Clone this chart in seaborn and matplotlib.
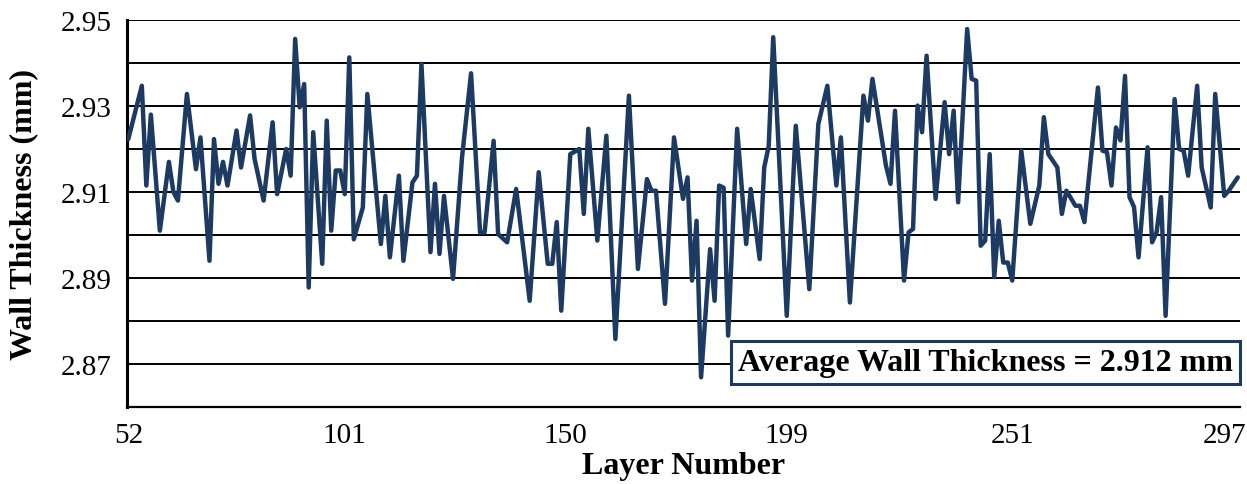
import matplotlib
matplotlib.use("Agg")
import matplotlib.pyplot as plt
import seaborn as sns
import pandas as pd

# sample index along the category axis (one category per measured layer)
sample_index = [0, 3, 4, 5, 7, 9, 10, 11, 13, 15, 16, 18, 19, 20, 21, 22, 24, 25, 27, 28,
                30, 32, 33, 35, 36, 37, 38, 39, 40, 41, 43, 44, 45, 46, 47, 48, 49, 50, 52, 53,
                56, 57, 58, 60, 61, 63, 64, 65, 67, 68, 69, 70, 72, 74, 76, 78, 79, 81, 82, 84,
                86, 89, 91, 93, 94, 95, 96, 98, 100, 101, 102, 104, 106, 108, 111, 113, 115, 116, 117, 119,
                121, 123, 124, 125, 126, 127, 129, 130, 131, 132, 133, 135, 137, 138, 140, 141, 142, 143, 146, 148,
                151, 153, 155, 157, 158, 160, 163, 164, 165, 168, 169, 170, 172, 173, 174, 175, 176, 177, 179, 181,
                182, 183, 184, 186, 187, 188, 189, 190, 191, 192, 193, 194, 195, 196, 198, 200, 202, 203, 204, 206,
                207, 208, 210, 211, 212, 215, 216, 217, 218, 219, 220, 221, 222, 223, 224, 226, 227, 228, 229, 230,
                232, 233, 234, 235, 237, 238, 240, 241, 243, 244, 246]

thickness = [2.9223, 2.9347, 2.9115, 2.9280, 2.9010, 2.9170, 2.9100, 2.9080, 2.9328, 2.9153,
             2.9227, 2.8940, 2.9223, 2.9119, 2.9170, 2.9115, 2.9243, 2.9157, 2.9278, 2.9177,
             2.9080, 2.9262, 2.9095, 2.9200, 2.9138, 2.9456, 2.9297, 2.9351, 2.8878, 2.9239,
             2.8933, 2.9266, 2.9010, 2.9150, 2.9150, 2.9095, 2.9413, 2.8990, 2.9064, 2.9328,
             2.8979, 2.9091, 2.8948, 2.9138, 2.8940, 2.9122, 2.9138, 2.9398, 2.8960, 2.9119,
             2.8956, 2.9091, 2.8898, 2.9181, 2.9376, 2.9006, 2.9006, 2.9219, 2.9002, 2.8983,
             2.9107, 2.8847, 2.9146, 2.8933, 2.8933, 2.9030, 2.8824, 2.9188, 2.9200, 2.9049,
             2.9247, 2.8987, 2.9231, 2.8758, 2.9324, 2.8921, 2.9130, 2.9103, 2.9103, 2.8840,
             2.9227, 2.9084, 2.9134, 2.8894, 2.9033, 2.8669, 2.8967, 2.8847, 2.9115, 2.9110,
             2.8766, 2.9247, 2.8979, 2.9107, 2.8944, 2.9157, 2.9207, 2.9460, 2.8812, 2.9254,
             2.8874, 2.9258, 2.9347, 2.9115, 2.9227, 2.8843, 2.9324, 2.9266, 2.9363, 2.9161,
             2.9119, 2.9289, 2.8894, 2.9006, 2.9014, 2.9301, 2.9239, 2.9417, 2.9084, 2.9309,
             2.9188, 2.9289, 2.9076, 2.9479, 2.9363, 2.9359, 2.8975, 2.8987, 2.9188, 2.8902,
             2.9033, 2.8936, 2.8936, 2.8894, 2.9196, 2.9026, 2.9115, 2.9274, 2.9188, 2.9157,
             2.9049, 2.9103, 2.9068, 2.9068, 2.9030, 2.9343, 2.9196, 2.9193, 2.9115, 2.9250,
             2.9220, 2.9370, 2.9088, 2.9065, 2.8948, 2.9204, 2.8983, 2.9006, 2.9088, 2.8812,
             2.9316, 2.9200, 2.9196, 2.9138, 2.9347, 2.9157, 2.9064, 2.9328, 2.9091, 2.9103,
             2.9134]

tick_positions = [0, 48, 97, 146, 196, 243]
tick_labels = ["52", "101", "150", "199", "251", "297"]
y_ticks = [2.87, 2.89, 2.91, 2.93, 2.95]
average_thickness = 2.912

df = pd.DataFrame({"idx": sample_index, "t": thickness})

sns.set_theme(style="white")
plt.rcParams["font.family"] = ["Liberation Serif", "DejaVu Serif"]

fig = plt.figure(figsize=(12.47, 4.85), dpi=100)
ax = fig.add_axes([0.1018, 0.1588, 0.8926, 0.7979])

# gridlines every 0.01
for g in [2.86 + 0.01 * k for k in range(1, 10)]:
    ax.axhline(g, color="black", lw=1.4, zorder=1)

sns.lineplot(data=df, x="idx", y="t", ax=ax, color="#1C3A62", lw=3.2, zorder=3)

ax.set_xlim(-0.3, 246.5)
ax.set_ylim(2.86, 2.95)
ax.set_yticks(y_ticks)
ax.set_yticklabels([f"{v:.2f}" for v in y_ticks])
ax.set_yticks([2.86 + 0.01 * k for k in range(0, 10)], minor=True)
ax.set_xticks(tick_positions)
ax.set_xticklabels(tick_labels)
ax.tick_params(axis="both", which="major", labelsize=21, direction="out",
               length=7, width=1.4, color="black", labelcolor="black")
ax.tick_params(axis="y", which="minor", direction="out", length=7, width=1.4, color="black")
ax.tick_params(axis="y", pad=4)
ax.tick_params(axis="x", pad=4)

for side in ["top", "right"]:
    ax.spines[side].set_visible(False)
ax.spines["left"].set_color("black")
ax.spines["left"].set_linewidth(2.2)
ax.spines["bottom"].set_color("black")
ax.spines["bottom"].set_linewidth(1.6)

ax.set_xlabel("Layer Number", fontsize=23, fontweight="bold", labelpad=2, color="black")
ax.set_ylabel("Wall Thickness (mm)", fontsize=23, fontweight="bold", labelpad=16, color="black")

ax.text(0.771, 0.115, f"Average Wall Thickness = {average_thickness:.3f} mm",
        transform=ax.transAxes, ha="center", va="center", fontsize=23, fontweight="bold",
        color="black", zorder=5,
        bbox=dict(boxstyle="square,pad=0.22", facecolor="white", edgecolor="#1C3A62", lw=2.2))

fig.savefig("out.png", dpi=100)
